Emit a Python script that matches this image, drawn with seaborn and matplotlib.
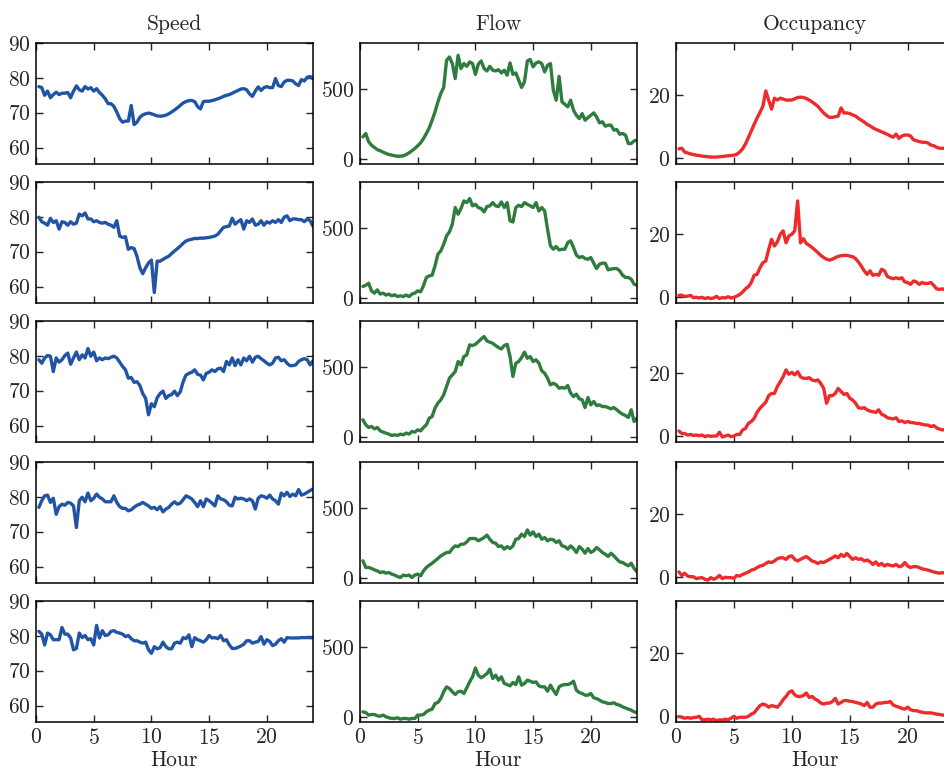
import numpy as np
import seaborn as sns
import matplotlib.pyplot as plt

# time axis: one reading every 15 minutes
hours = np.arange(0.25, 24.01, 0.25)

# ---- Speed (mph) ----
speed_1 = [77.5, 77.2, 75.0, 76.2, 74.3, 75.2, 75.9, 75.2,
           75.6, 75.6, 75.8, 74.3, 76.2, 77.7, 76.6, 76.2,
           77.5, 76.8, 77.2, 76.2, 76.9, 75.8, 75.0, 74.0,
           72.6, 72.6, 71.8, 70.2, 68.3, 67.3, 67.6, 67.6,
           72.1, 66.6, 67.3, 68.7, 69.4, 69.7, 69.9, 69.7,
           69.4, 69.1, 69.0, 69.1, 69.3, 69.7, 70.2, 70.8,
           71.4, 72.1, 72.8, 73.2, 73.5, 73.5, 73.2, 71.8,
           71.1, 73.2, 73.3, 73.3, 73.5, 73.7, 74.0, 74.3,
           74.7, 75.0, 75.2, 75.6, 76.0, 76.4, 76.8, 76.9,
           76.6, 75.4, 74.7, 76.2, 77.4, 76.4, 77.2, 77.5,
           77.2, 77.2, 79.8, 77.8, 77.5, 78.8, 79.3, 79.3,
           79.1, 78.3, 77.8, 79.5, 79.1, 80.2, 80.4, 79.7]
speed_2 = [79.9, 78.6, 78.2, 77.6, 79.6, 78.4, 78.9, 76.5,
           78.6, 78.4, 77.6, 78.6, 77.9, 78.2, 80.8, 80.3,
           81.1, 79.4, 79.4, 78.6, 78.9, 78.4, 78.2, 78.4,
           77.9, 77.6, 77.0, 78.9, 74.5, 74.1, 74.3, 70.7,
           71.2, 70.9, 68.7, 65.4, 63.7, 65.4, 66.8, 67.6,
           58.3, 67.3, 67.3, 67.8, 68.3, 68.7, 69.5, 70.2,
           70.9, 71.6, 72.4, 73.1, 73.4, 73.6, 73.8, 73.8,
           73.9, 73.9, 74.0, 74.1, 74.3, 74.5, 75.0, 76.0,
           77.0, 77.2, 77.4, 79.6, 77.9, 78.6, 79.2, 76.5,
           78.9, 78.4, 79.4, 77.6, 77.9, 78.9, 77.6, 78.6,
           78.2, 78.9, 78.4, 79.2, 78.4, 79.9, 80.3, 78.9,
           79.4, 79.4, 79.2, 79.2, 78.6, 79.4, 78.9, 77.3]
speed_3 = [78.9, 77.9, 79.4, 80.1, 79.9, 75.5, 79.4, 78.2,
           78.9, 80.1, 80.8, 77.6, 79.4, 81.1, 78.9, 80.3,
           79.4, 82.1, 79.9, 81.1, 78.6, 79.4, 78.9, 79.4,
           79.2, 79.6, 79.9, 79.4, 78.2, 77.0, 76.0, 73.6,
           73.8, 72.4, 72.6, 71.5, 69.2, 67.8, 63.1, 66.3,
           65.4, 68.0, 69.2, 69.9, 67.8, 68.6, 68.9, 69.9,
           68.6, 69.7, 72.6, 74.5, 75.0, 75.3, 76.0, 74.7,
           74.5, 73.1, 75.0, 75.3, 76.0, 75.5, 76.3, 76.5,
           75.5, 78.4, 77.4, 79.4, 77.2, 78.9, 77.4, 79.4,
           78.6, 79.9, 78.2, 79.6, 79.9, 79.2, 78.6, 77.9,
           77.4, 77.9, 79.4, 79.6, 78.6, 78.9, 77.9, 77.2,
           77.2, 77.4, 78.4, 78.9, 79.2, 78.9, 77.4, 78.6]
speed_4 = [77.0, 78.9, 80.3, 80.5, 78.4, 79.6, 75.0, 77.2,
           77.9, 77.6, 78.4, 78.2, 77.4, 71.2, 78.9, 79.9,
           78.6, 81.1, 78.9, 79.6, 80.8, 79.9, 79.4, 78.6,
           78.6, 78.6, 80.3, 78.4, 77.2, 76.7, 76.7, 76.0,
           76.3, 77.0, 77.6, 77.9, 78.4, 77.9, 77.4, 76.7,
           77.0, 76.3, 77.2, 75.7, 76.5, 77.0, 77.9, 78.6,
           77.9, 78.2, 79.2, 80.3, 79.9, 79.4, 78.4, 77.2,
           78.9, 77.2, 79.4, 78.9, 78.2, 77.4, 80.3, 79.4,
           79.2, 78.6, 77.6, 77.4, 79.9, 79.4, 79.6, 79.4,
           78.9, 79.4, 78.9, 76.5, 79.6, 80.3, 80.1, 79.6,
           80.5, 79.4, 78.9, 77.9, 81.1, 80.3, 81.3, 80.1,
           80.8, 80.3, 82.1, 80.5, 80.8, 81.3, 81.8, 82.3]
speed_5 = [81.3, 80.5, 77.4, 80.8, 80.3, 78.9, 78.9, 78.9,
           82.4, 80.5, 80.5, 79.4, 76.0, 76.4, 80.8, 79.5,
           80.1, 78.9, 79.2, 77.4, 83.0, 79.4, 81.5, 80.1,
           80.3, 81.3, 81.5, 81.0, 80.8, 80.5, 79.8, 80.1,
           79.2, 78.6, 78.6, 78.2, 77.9, 78.2, 76.0, 75.0,
           76.9, 76.3, 76.6, 78.2, 76.9, 76.3, 76.3, 77.9,
           78.2, 77.9, 79.5, 79.2, 80.3, 76.9, 79.5, 78.9,
           78.6, 78.2, 78.9, 80.1, 79.4, 79.5, 79.2, 80.1,
           78.6, 78.9, 77.4, 76.4, 76.4, 76.7, 77.1, 77.6,
           78.6, 78.6, 77.9, 78.2, 78.4, 79.8, 77.6, 78.9,
           78.4, 77.2, 77.6, 78.6, 79.2, 78.2, 79.5, 79.4,
           79.4, 79.4, 79.4, 79.5, 79.5, 79.5, 79.5, 79.4]

# ---- Flow (veh/h) ----
flow_1 = [160, 184, 125, 101, 85, 70, 62, 52,
          43, 35, 31, 26, 23, 23, 26, 35,
          47, 62, 78, 97, 118, 148, 184, 224,
          278, 337, 408, 467, 510, 702, 726, 679,
          573, 738, 644, 679, 660, 691, 679, 603,
          675, 698, 644, 627, 660, 632, 627, 636,
          613, 632, 597, 684, 603, 613, 562, 510,
          550, 698, 708, 656, 684, 691, 679, 620,
          667, 679, 490, 420, 589, 408, 391, 373,
          420, 349, 313, 290, 325, 278, 297, 313,
          330, 302, 259, 267, 236, 243, 243, 208,
          212, 179, 184, 173, 113, 113, 132, 136]
flow_2 = [85, 94, 108, 54, 38, 61, 31, 38,
          24, 31, 19, 26, 14, 19, 14, 24,
          14, 31, 38, 54, 47, 90, 149, 160,
          165, 231, 314, 337, 384, 443, 472, 526,
          644, 597, 637, 691, 679, 708, 656, 667,
          644, 637, 613, 651, 656, 679, 656, 651,
          684, 644, 679, 550, 542, 644, 660, 651,
          679, 667, 656, 644, 679, 620, 644, 620,
          491, 373, 349, 368, 344, 349, 349, 396,
          408, 361, 307, 290, 297, 283, 278, 290,
          250, 212, 243, 250, 250, 203, 208, 212,
          212, 196, 165, 149, 149, 137, 101, 94]
flow_3 = [125, 90, 71, 78, 61, 71, 47, 38,
          31, 24, 14, 19, 14, 24, 19, 31,
          24, 42, 38, 54, 47, 71, 90, 137,
          149, 208, 243, 267, 302, 361, 420, 443,
          467, 538, 514, 573, 585, 656, 651, 660,
          679, 698, 715, 684, 675, 667, 651, 637,
          627, 651, 660, 573, 432, 526, 538, 566,
          604, 561, 573, 538, 550, 526, 472, 455,
          420, 373, 384, 373, 349, 354, 349, 368,
          314, 290, 307, 274, 267, 212, 283, 231,
          255, 226, 231, 219, 219, 212, 203, 212,
          196, 179, 165, 156, 142, 196, 113, 137]
flow_4 = [125, 78, 78, 71, 61, 54, 42, 47,
          38, 42, 31, 24, 14, 7, 24, 19,
          24, 7, 24, 31, 19, 54, 78, 94,
          108, 125, 142, 160, 172, 184, 184, 212,
          231, 226, 243, 243, 259, 283, 283, 283,
          267, 278, 290, 307, 278, 255, 250, 226,
          231, 208, 226, 212, 231, 278, 283, 314,
          297, 344, 307, 330, 297, 314, 278, 290,
          267, 278, 274, 255, 267, 231, 226, 208,
          231, 212, 184, 226, 208, 179, 212, 184,
          196, 219, 203, 184, 172, 156, 179, 160,
          137, 118, 113, 101, 90, 108, 71, 47]
flow_5 = [40, 35, 17, 21, 21, 12, 9, 17,
          5, -2, -7, -7, -2, -12, -7, -7,
          -12, -7, -7, 17, 17, 21, 40, 52,
          59, 99, 106, 134, 182, 217, 205, 182,
          163, 182, 186, 170, 210, 252, 288, 351,
          300, 281, 295, 311, 342, 276, 300, 264,
          288, 241, 233, 224, 248, 233, 288, 229,
          241, 264, 257, 248, 252, 224, 217, 217,
          186, 229, 193, 163, 217, 229, 233, 233,
          241, 257, 193, 177, 170, 158, 158, 170,
          139, 134, 123, 111, 106, 99, 99, 104,
          92, 87, 75, 68, 59, 52, 40, 33]

# ---- Occupancy (%) ----
occ_1 = [2.9, 3.1, 1.9, 1.6, 1.3, 1.1, 0.9, 0.8,
         0.6, 0.5, 0.4, 0.3, 0.3, 0.3, 0.4, 0.5,
         0.6, 0.7, 0.8, 0.9, 1.2, 1.9, 2.9, 4.5,
         6.5, 8.6, 10.7, 12.7, 14.5, 16.4, 21.3, 18.4,
         15.5, 19.0, 18.4, 19.0, 18.7, 18.4, 18.4, 18.4,
         18.8, 19.2, 19.3, 19.2, 18.9, 18.4, 17.8, 17.1,
         16.4, 15.3, 14.3, 13.5, 12.9, 12.9, 13.1, 13.3,
         15.9, 14.3, 14.3, 14.1, 13.7, 13.3, 12.6, 12.0,
         11.4, 10.7, 10.2, 9.6, 9.1, 8.7, 8.3, 7.9,
         7.5, 7.0, 6.6, 7.6, 6.2, 7.0, 7.3, 7.3,
         7.0, 5.8, 5.5, 5.2, 5.0, 5.0, 4.8, 4.1,
         3.9, 3.4, 3.1, 3.1, 3.1, 3.0, 3.2, 3.0]
occ_2 = [0.5, 0.6, 0.1, 0.3, 0.5, -0.2, -0.1, -0.3,
         -0.1, -0.5, -0.2, -0.5, -0.3, 0.2, -0.5, -0.2,
         -0.3, 0.1, -0.3, -0.1, 0.3, 0.8, 1.6, 2.6,
         3.3, 4.6, 6.9, 7.2, 9.3, 10.9, 11.4, 15.1,
         18.3, 16.2, 17.5, 19.9, 21.0, 17.2, 19.4, 19.9,
         21.0, 30.5, 17.2, 18.5, 17.0, 16.4, 15.7, 14.9,
         14.1, 13.2, 12.5, 12.0, 11.7, 12.0, 12.5, 12.9,
         13.1, 13.2, 13.2, 13.0, 12.8, 12.2, 11.1, 9.8,
         8.3, 7.2, 8.3, 6.9, 7.2, 6.9, 8.8, 8.3,
         6.5, 6.1, 5.8, 6.1, 5.8, 6.1, 4.8, 4.6,
         4.0, 5.1, 4.8, 4.0, 4.6, 4.3, 4.3, 4.6,
         3.7, 2.6, 2.4, 2.6, 2.2, 2.4, 2.0, 2.2]
occ_3 = [1.6, 0.8, 0.8, 0.3, 0.5, 0.2, 0.3, 0.1,
         0.3, -0.2, 0.1, -0.1, 0.0, 0.0, 1.2, -0.3,
         0.0, 0.3, -0.2, 0.0, 0.5, 0.5, 1.9, 2.4,
         4.0, 4.6, 5.6, 7.5, 8.8, 9.8, 10.7, 12.8,
         13.5, 13.5, 15.7, 17.2, 18.8, 21.0, 19.6, 20.2,
         19.4, 20.4, 18.8, 18.3, 18.3, 18.5, 17.8, 17.5,
         17.8, 16.7, 15.1, 10.4, 12.8, 12.8, 13.5, 15.1,
         14.1, 13.2, 13.5, 12.0, 11.4, 10.4, 9.0, 8.8,
         9.0, 8.3, 7.9, 7.7, 7.5, 8.3, 6.9, 6.5,
         5.8, 5.6, 5.4, 5.8, 4.6, 4.8, 4.3, 4.6,
         4.3, 4.2, 4.0, 4.0, 3.7, 3.5, 3.5, 3.0,
         3.3, 2.6, 2.2, 1.9, 2.2, 2.5, 1.9, 2.4]
occ_4 = [1.6, 0.5, 1.2, 0.3, 0.1, 0.1, -0.5, -0.3,
         -0.2, -0.7, -1.0, -0.2, -0.7, -0.3, 0.5, -0.5,
         -0.1, -0.2, -0.2, -0.4, 0.5, 0.3, 0.8, 1.2,
         1.6, 2.2, 2.4, 3.0, 3.5, 3.7, 4.3, 4.8,
         4.6, 5.1, 5.8, 6.1, 6.1, 5.6, 6.5, 6.7,
         5.6, 5.1, 5.6, 6.1, 6.5, 5.8, 5.1, 4.8,
         4.3, 4.8, 4.6, 5.1, 5.6, 6.1, 6.7, 6.1,
         7.2, 6.5, 7.5, 6.5, 5.6, 6.1, 5.6, 5.8,
         5.1, 5.4, 4.8, 4.0, 4.8, 3.7, 4.3, 3.5,
         4.0, 3.7, 3.5, 4.0, 3.3, 3.5, 4.6, 3.5,
         3.0, 3.3, 3.3, 3.0, 2.6, 2.4, 2.2, 1.9,
         1.6, 1.4, 1.2, 1.4, 1.2, 1.2, 1.0, 1.1]
occ_5 = [-0.2, -0.4, -0.7, -0.5, -0.7, -0.5, -0.4, -0.1,
         -1.2, -1.2, -1.0, -1.2, -1.0, -1.5, -1.2, -1.3,
         -1.0, -1.2, -0.7, -0.1, -0.7, -0.4, -0.4, -0.4,
         -0.1, 0.6, 1.0, 2.2, 3.3, 3.8, 3.5, 2.8,
         3.3, 3.1, 2.8, 3.8, 5.2, 6.2, 7.5, 8.0,
         6.7, 6.2, 6.2, 6.5, 7.3, 5.9, 6.2, 5.4,
         4.9, 4.1, 3.8, 4.1, 4.1, 4.6, 5.6, 3.8,
         4.3, 4.9, 4.9, 4.7, 4.6, 4.3, 4.1, 3.8,
         3.3, 4.3, 2.8, 2.8, 3.8, 4.1, 4.1, 4.3,
         4.3, 4.6, 3.5, 3.1, 2.8, 2.4, 2.2, 2.8,
         2.0, 1.7, 1.7, 1.4, 1.2, 1.0, 1.0, 1.0,
         0.8, 0.6, 0.5, 0.3, 0.3, 0.2, 0.1, 0.0]

titles = ['Speed', 'Flow', 'Occupancy']
columns = [
    [speed_1, speed_2, speed_3, speed_4, speed_5],
    [flow_1, flow_2, flow_3, flow_4, flow_5],
    [occ_1, occ_2, occ_3, occ_4, occ_5],
]
colors = ['#2154a5', '#2e7d3f', '#ee2a2a']
ylims = [(55.3, 90), (-32, 825), (-1.9, 36.5)]
yticks = [[60, 70, 80, 90], [0, 500], [0, 20]]
xticks = [0, 5, 10, 15, 20]

sns.set_style('ticks')
plt.rcParams['font.family'] = 'serif'
plt.rcParams['font.serif'] = ['cmr10']
plt.rcParams['mathtext.fontset'] = 'cm'
plt.rcParams['axes.formatter.use_mathtext'] = True

W, H = 945, 768
fig = plt.figure(figsize=(W / 100, H / 100), dpi=100)

# panel geometry in pixels (third column runs off the right edge, as in the original)
col_left = [36, 360, 676]
col_width = [277, 277, 278]
row_top = [43, 182, 321, 462, 601]
row_h = 121

for c in range(3):
    for r in range(5):
        ax = fig.add_axes([col_left[c] / W, 1 - (row_top[r] + row_h) / H,
                           col_width[c] / W, row_h / H])
        sns.lineplot(x=hours, y=columns[c][r], color=colors[c], linewidth=2.4, ax=ax)
        ax.set_xlim(0, 24)
        ax.set_ylim(*ylims[c])
        ax.set_xticks(xticks)
        ax.set_yticks(yticks[c])
        ax.tick_params(direction='in', top=True, right=True, length=5, width=1,
                       labelsize=15.5, pad=4)
        for s in ax.spines.values():
            s.set_color('black')
            s.set_linewidth(1.1)
        ax.set_ylabel('')
        if r < 4:
            ax.set_xticklabels([])
            ax.set_xlabel('')
        else:
            ax.set_xlabel('Hour', fontsize=15.5, labelpad=2)
        if r == 0:
            ax.set_title(titles[c], fontsize=15.5, pad=9)

fig.savefig('out.png', dpi=100)
